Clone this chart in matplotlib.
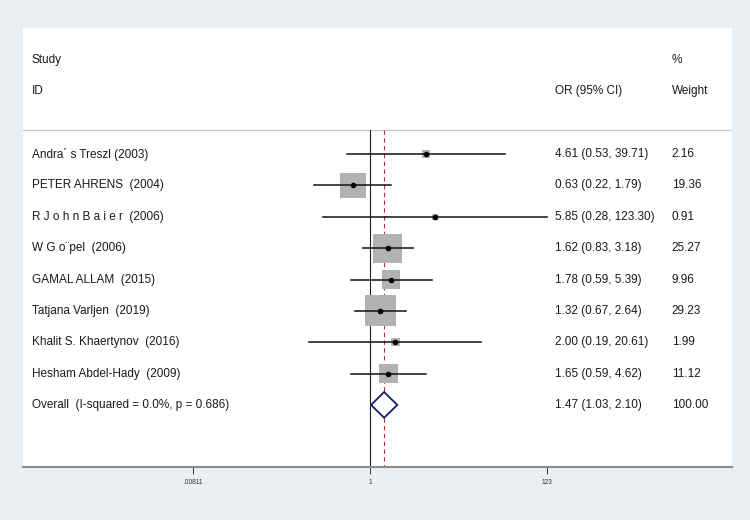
import numpy as np
import matplotlib.pyplot as plt
import matplotlib.transforms as mtransforms

plt.rcParams['font.family'] = ['Liberation Sans', 'DejaVu Sans']

# study data
studies = ['Andra\u00b4 s Treszl (2003)', 'PETER AHRENS  (2004)',
           'R J o h n B a i e r  (2006)', 'W G o\u00a8pel  (2006)',
           'GAMAL ALLAM  (2015)', 'Tatjana Varljen  (2019)',
           'Khalit S. Khaertynov  (2016)', 'Hesham Abdel-Hady  (2009)']
odds = [4.61, 0.63, 5.85, 1.62, 1.78, 1.32, 2.00, 1.65]
lower = [0.53, 0.22, 0.28, 0.83, 0.59, 0.67, 0.19, 0.59]
upper = [39.71, 1.79, 123.30, 3.18, 5.39, 2.64, 20.61, 4.62]
weights = [2.16, 19.36, 0.91, 25.27, 9.96, 29.23, 1.99, 11.12]

overall_label = 'Overall  (I-squared = 0.0%, p = 0.686)'
overall_or = 1.47
overall_lo = 1.03
overall_hi = 2.10

tick_vals = [0.00811, 1, 123]
tick_labels = ['.00811', '1', '123']

bg = '#e9eff2'
fig = plt.figure(figsize=(7.5, 5.2), dpi=100, facecolor=bg)
ax = fig.add_axes([0.0307, 0.1019, 0.9453, 0.8442])
ax.set_facecolor('white')
ax.set_xscale('log')
ax.set_xlim(np.exp(-9.43), np.exp(9.84))
ax.set_ylim(9.98, -4.02)

txt = mtransforms.blended_transform_factory(ax.transAxes, ax.transData)
fs = 8.5
tc = '#1a1a1a'

# headers
ax.text(0.012, -3, 'Study', transform=txt, fontsize=fs, va='center', color=tc)
ax.text(0.012, -2, 'ID', transform=txt, fontsize=fs, va='center', color=tc)
ax.text(0.750, -2, 'OR (95% CI)', transform=txt, fontsize=fs, va='center', color=tc)
ax.text(0.915, -3, '%', transform=txt, fontsize=fs, va='center', color=tc)
ax.text(0.915, -2, 'Weight', transform=txt, fontsize=fs, va='center', color=tc)
ax.axhline(-0.77, color='#c8c8c8', lw=0.9)

# reference lines
ax.plot([1, 1], [-0.77, 9.98], color='#222222', lw=0.8, zorder=2)
ax.plot([overall_or, overall_or], [-0.77, 9.98], color='#b03040', lw=0.8,
        ls=(0, (4, 3)), zorder=2)

ys = np.arange(len(studies))
ax.scatter(odds, ys, s=np.array(weights) * 17.0, marker='s', color='#b2b2b2',
           edgecolors='none', zorder=3)
for y, lo, hi in zip(ys, lower, upper):
    ax.plot([lo, hi], [y, y], color='#111111', lw=1.1, zorder=4)
ax.plot(odds, ys, 'o', color='black', markersize=3, zorder=5)

for y, name, o, lo, hi, w in zip(ys, studies, odds, lower, upper, weights):
    ax.text(0.012, y, name, transform=txt, fontsize=fs, va='center', color=tc)
    ax.text(0.750, y, '%.2f (%.2f, %.2f)' % (o, lo, hi), transform=txt,
            fontsize=fs, va='center', color=tc)
    ax.text(0.915, y, '%.2f' % w, transform=txt, fontsize=fs, va='center', color=tc)

# overall diamond
yo = len(studies)
ax.fill([overall_lo, overall_or, overall_hi, overall_or],
        [yo, yo - 0.41, yo, yo + 0.41], facecolor='white',
        edgecolor='#1a1a6e', lw=1.3, zorder=4)
ax.text(0.012, yo, overall_label, transform=txt, fontsize=fs, va='center', color=tc)
ax.text(0.750, yo, '%.2f (%.2f, %.2f)' % (overall_or, overall_lo, overall_hi),
        transform=txt, fontsize=fs, va='center', color=tc)
ax.text(0.915, yo, '100.00', transform=txt, fontsize=fs, va='center', color=tc)

# axes styling
for s in ['top', 'left', 'right']:
    ax.spines[s].set_visible(False)
ax.spines['bottom'].set_color('#8c8c8c')
ax.spines['bottom'].set_linewidth(1.5)
ax.set_yticks([])
ax.set_xticks(tick_vals)
ax.set_xticklabels(tick_labels)
ax.xaxis.set_minor_locator(plt.NullLocator())
ax.tick_params(axis='x', direction='out', length=5, width=0.7,
               color='#333333', labelsize=4.8, pad=3.5, labelcolor='#333333')

fig.savefig('out.png', dpi=100, facecolor=bg)
